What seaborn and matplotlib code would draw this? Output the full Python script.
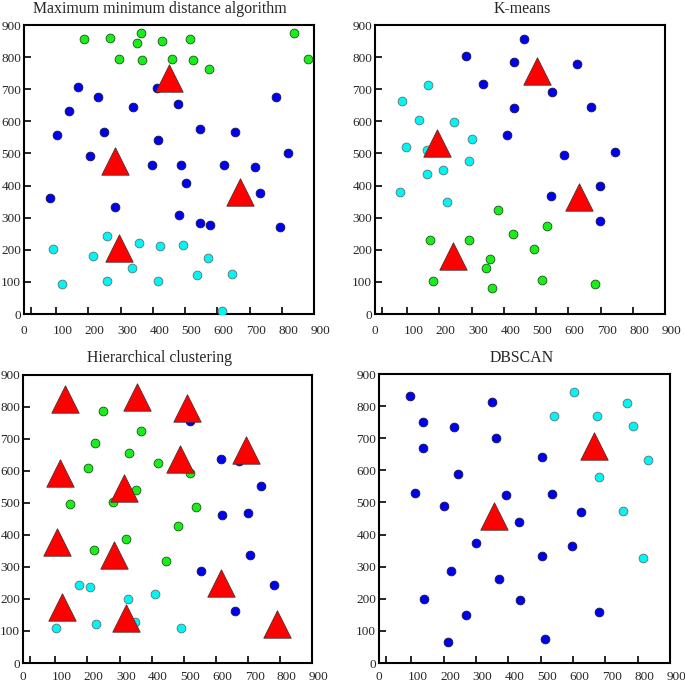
import pandas as pd
import matplotlib
matplotlib.use("Agg")
import matplotlib.pyplot as plt
import matplotlib.transforms as mtransforms
import seaborn as sns

# ---- data (x, y in the 0-900 plane) ----

# Maximum minimum distance algorithm
mmd_green_x = [186, 267, 362, 351, 429, 514, 839, 882, 294, 365, 459, 525, 573]
mmd_green_y = [856, 859, 874, 843, 849, 858, 875, 793, 793, 791, 793, 791, 764]
mmd_blue_x = [169, 230, 139, 339, 412, 477, 782, 104, 247, 545, 655, 416, 204,
              396, 487, 620, 717, 820, 502, 82, 732, 282, 480, 546, 577, 796]
mmd_blue_y = [706, 676, 631, 646, 703, 654, 676, 558, 566, 577, 568, 543, 491,
              465, 465, 465, 457, 501, 409, 362, 377, 332, 308, 282, 276, 270]
mmd_cyan_x = [259, 91, 213, 356, 423, 494, 572, 336, 117, 259, 415, 537, 647, 613]
mmd_cyan_y = [243, 204, 182, 220, 213, 215, 173, 142, 92, 102, 102, 121, 125, 9]
mmd_center_x = [450, 281, 669, 294]
mmd_center_y = [736, 477, 379, 206]

# K-means
km_blue_x = [462, 283, 431, 626, 336, 548, 431, 669, 411, 587, 746, 698, 547, 698]
km_blue_y = [856, 804, 785, 779, 715, 690, 641, 645, 557, 495, 506, 400, 368, 290]
km_cyan_x = [166, 85, 138, 245, 301, 97, 162, 291, 212, 163, 79, 225]
km_cyan_y = [714, 663, 604, 598, 546, 520, 512, 476, 450, 435, 379, 349]
km_green_x = [383, 535, 428, 172, 292, 495, 358, 345, 179, 519, 362, 683]
km_green_y = [325, 275, 250, 229, 229, 201, 172, 142, 102, 105, 80, 94]
km_center_x = [504, 193, 632, 242]
km_center_y = [758, 532, 363, 181]

# Hierarchical clustering
hc_green_x = [248, 224, 367, 328, 421, 202, 518, 352, 280, 145, 538, 481, 319, 220, 444]
hc_green_y = [788, 688, 726, 655, 624, 609, 593, 542, 503, 497, 486, 429, 389, 354, 319]
hc_blue_x = [520, 615, 670, 739, 618, 699, 706, 552, 781, 660]
hc_blue_y = [757, 638, 631, 554, 461, 469, 338, 288, 244, 163]
hc_cyan_x = [174, 207, 326, 411, 227, 348, 102, 491]
hc_cyan_y = [245, 239, 201, 217, 122, 128, 110, 110]
hc_center_x = [130, 353, 510, 692, 487, 114, 313, 105, 282, 615, 121, 321, 790]
hc_center_y = [826, 830, 797, 667, 638, 594, 547, 379, 339, 249, 175, 142, 123]

# DBSCAN
db_blue_x = [95, 348, 136, 232, 361, 135, 503, 245, 112, 392, 534, 201, 624,
             432, 301, 598, 503, 224, 370, 138, 437, 268, 681, 214, 514]
db_blue_y = [830, 812, 750, 736, 702, 669, 643, 589, 530, 522, 525, 490, 471,
             440, 374, 364, 333, 288, 261, 199, 195, 149, 158, 66, 74]
db_cyan_x = [602, 542, 674, 766, 786, 831, 681, 755, 815]
db_cyan_y = [845, 769, 769, 809, 738, 633, 579, 472, 327]
db_center_x = [664, 355]
db_center_y = [675, 457]

tick_values = list(range(0, 1000, 100))
tick_labels = [str(v) for v in tick_values]

palette = {"blue": "#0000f0", "cyan": "#00f5f5", "green": "#18ee18"}
edge = {"blue": "#1a1a40", "cyan": "#607070", "green": "#205020"}


def make_points(groups):
    frames = []
    for name, xs, ys in groups:
        frames.append(pd.DataFrame({"x": xs, "y": ys, "cluster": name}))
    return pd.concat(frames, ignore_index=True)


panels = [
    ("Maximum minimum distance algorithm", [0.035, 0.5409, 0.4234, 0.4225], 0.467, 8,
     [("green", mmd_green_x, mmd_green_y), ("blue", mmd_blue_x, mmd_blue_y),
      ("cyan", mmd_cyan_x, mmd_cyan_y)], mmd_center_x, mmd_center_y),
    ("K-means", [0.5474, 0.5409, 0.4234, 0.4225], 0.507, 8,
     [("blue", km_blue_x, km_blue_y), ("cyan", km_cyan_x, km_cyan_y),
      ("green", km_green_x, km_green_y)], km_center_x, km_center_y),
    ("Hierarchical clustering", [0.0336, 0.0307, 0.4226, 0.4211], 0.47, 6,
     [("green", hc_green_x, hc_green_y), ("blue", hc_blue_x, hc_blue_y),
      ("cyan", hc_cyan_x, hc_cyan_y)], hc_center_x, hc_center_y),
    ("DBSCAN", [0.5533, 0.0307, 0.4248, 0.4225], 0.49, 6,
     [("blue", db_blue_x, db_blue_y), ("cyan", db_cyan_x, db_cyan_y)],
     db_center_x, db_center_y),
]

sns.set_style("white")
plt.rcParams["font.family"] = ["Liberation Serif", "DejaVu Serif"]

fig = plt.figure(figsize=(6.85, 6.84), dpi=100)
label_shift = mtransforms.ScaledTranslation(-3.5 / 100, 0, fig.dpi_scale_trans)

for title, rect, title_x, xpad, groups, cx, cy in panels:
    ax = fig.add_axes(rect)
    points = make_points(groups)
    for name in points["cluster"].unique():
        sub = points[points["cluster"] == name]
        sns.scatterplot(data=sub, x="x", y="y", color=palette[name], s=40,
                        edgecolor=edge[name], linewidth=0.6, legend=False,
                        ax=ax, zorder=3)
    centers = pd.DataFrame({"x": cx, "y": cy})
    sns.scatterplot(data=centers, x="x", y="y", marker="^", color="#ff0000",
                    s=390, edgecolor="#503030", linewidth=0.6, legend=False,
                    ax=ax, zorder=4)

    ax.set_xlim(0, 900)
    ax.set_ylim(0, 900)
    ax.set_xlabel("")
    ax.set_ylabel("")
    ax.set_xticks(tick_values)
    ax.set_xticklabels(tick_labels)
    ax.set_yticks(tick_values)
    ax.set_yticklabels(tick_labels)
    ax.set_xticks([22], minor=True)
    ax.tick_params(axis="x", which="both", direction="in", length=5, width=1.4,
                   pad=xpad, labelsize=9.5, bottom=True, top=False)
    ax.tick_params(axis="y", which="both", direction="in", length=5, width=1.4,
                   pad=2, labelsize=9.5, left=True, right=False)
    for lab in ax.get_xticklabels():
        lab.set_horizontalalignment("left")
        lab.set_transform(lab.get_transform() + label_shift)
    for spine in ax.spines.values():
        spine.set_visible(True)
        spine.set_linewidth(1.5)
        spine.set_color("black")
    ax.set_title(title, x=title_x, fontsize=11.4, pad=9)

fig.savefig("out.png", dpi=100)
